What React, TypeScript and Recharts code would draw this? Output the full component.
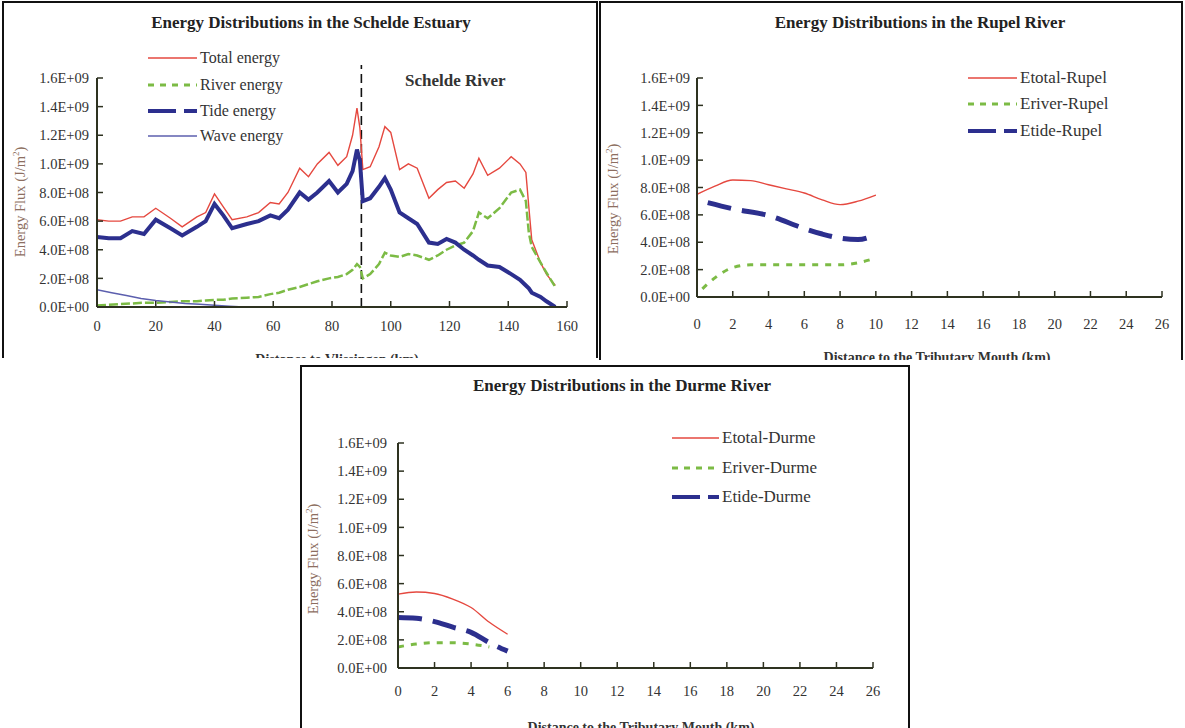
import React from "react";
import { LineChart, Line, XAxis, YAxis, ReferenceLine } from "recharts";

// values are in units of 1E+09 J/m2
const scheldeKm = [0, 4, 8, 12, 16, 20, 25, 29, 34, 37, 40, 43, 46, 51, 55, 59, 62, 65, 69, 72, 75, 79, 82, 85, 87, 88.5, 89.5, 90.5, 93, 96, 98, 100, 103, 106, 109, 113, 116, 119, 122, 125, 128, 130, 133, 137, 141, 144, 146, 147, 148, 151, 153, 156];
const scheldeTotal = [0.61, 0.6, 0.6, 0.63, 0.63, 0.69, 0.62, 0.56, 0.63, 0.66, 0.79, 0.7, 0.61, 0.63, 0.66, 0.73, 0.72, 0.8, 0.97, 0.91, 1.0, 1.08, 0.99, 1.05, 1.2, 1.39, 1.25, 0.96, 0.98, 1.12, 1.26, 1.22, 0.96, 1.0, 0.97, 0.76, 0.82, 0.87, 0.88, 0.83, 0.93, 1.04, 0.92, 0.97, 1.05, 1.0, 0.94, 0.7, 0.47, 0.31, 0.23, 0.15];
const scheldeTide = [0.49, 0.48, 0.48, 0.53, 0.51, 0.61, 0.55, 0.5, 0.56, 0.6, 0.72, 0.64, 0.55, 0.58, 0.6, 0.64, 0.62, 0.68, 0.8, 0.75, 0.8, 0.88, 0.8, 0.86, 0.95, 1.1, 1.02, 0.74, 0.76, 0.84, 0.9, 0.82, 0.66, 0.62, 0.58, 0.45, 0.44, 0.475, 0.45, 0.4, 0.36, 0.33, 0.29, 0.28, 0.23, 0.19, 0.15, 0.13, 0.1, 0.07, 0.04, 0.0];
const scheldeRiver = [0.01, 0.015, 0.02, 0.025, 0.03, 0.03, 0.035, 0.04, 0.04, 0.045, 0.05, 0.05, 0.06, 0.065, 0.07, 0.09, 0.1, 0.12, 0.14, 0.16, 0.18, 0.2, 0.21, 0.23, 0.26, 0.3, 0.28, 0.2, 0.23, 0.3, 0.38, 0.36, 0.35, 0.37, 0.36, 0.33, 0.36, 0.4, 0.43, 0.45, 0.53, 0.66, 0.62, 0.69, 0.8, 0.82, 0.74, 0.52, 0.42, 0.31, 0.24, 0.14];
const waveKm = [0, 5, 10, 15, 20, 25, 30, 35, 40, 45, 50];
const waveEnergy = [0.12, 0.1, 0.08, 0.06, 0.045, 0.035, 0.025, 0.02, 0.012, 0.005, 0.0];

const rupelTotalKm = [0, 1, 2, 3, 4, 5, 6, 7, 8, 9, 10];
const rupelTotal = [0.75, 0.81, 0.855, 0.85, 0.82, 0.79, 0.76, 0.71, 0.675, 0.7, 0.745];
const rupelTideKm = [0.6, 2, 4, 6, 7, 8, 9, 10];
const rupelTide = [0.69, 0.645, 0.595, 0.5, 0.46, 0.43, 0.42, 0.455];
const rupelRiverKm = [0.3, 1, 2, 3, 4, 6, 8, 9, 10];
const rupelRiver = [0.06, 0.14, 0.215, 0.235, 0.235, 0.235, 0.235, 0.25, 0.285];

const durmeKm = [0, 1, 2, 3, 4, 5, 6];
const durmeTotal = [0.525, 0.54, 0.53, 0.49, 0.43, 0.325, 0.24];
const durmeTide = [0.36, 0.354, 0.33, 0.29, 0.253, 0.18, 0.12];
const durmeRiverKm = [0, 1, 2, 3, 4, 5];
const durmeRiver = [0.15, 0.17, 0.18, 0.18, 0.17, 0.15];

const yTicks = [0, 0.2, 0.4, 0.6, 0.8, 1.0, 1.2, 1.4, 1.6];
const scheldeTicks = [0, 20, 40, 60, 80, 100, 120, 140, 160];
const tributaryTicks = [0, 2, 4, 6, 8, 10, 12, 14, 16, 18, 20, 22, 24, 26];

const RED = "#e5483f";
const GREEN = "#7cbb45";
const NAVY = "#2c2f8e";
const WAVE = "#5c5fae";
const AXIS = "#2e3220";
const FONT = "'Liberation Serif', 'Times New Roman', serif";

const pts = (xs: number[], ys: number[]) => xs.map((x, i) => ({ x, y: ys[i] }));

function sci(v: number) {
  const n = Math.round(v * 1e9);
  if (n === 0) return "0.0E+00";
  const e = Math.floor(Math.log10(n) + 1e-9);
  return (n / 10 ** e).toFixed(1) + "E+" + String(e).padStart(2, "0");
}

type Series = {
  name: string;
  data: { x: number; y: number }[];
  color: string;
  width: number;
  dash?: string;
  legendDash?: string;
  legendWidth?: number;
  curve: "linear" | "monotone";
};

type Box = { left: number; top: number; width: number; height: number };

function Panel(props: {
  box: Box;
  plot: { left: number; top: number; right: number; bottom: number };
  title: string;
  titleX: number;
  titleY: number;
  xTitle: string;
  xTitleX: number;
  xTitleY: number;
  yTitleX: number;
  yTitleY: number;
  xDomain: [number, number];
  xTicks: number[];
  xTickGap: number;
  yTickGap: number;
  series: Series[];
  legend: { lineX: number; textX: number; rows: number[]; fontSize: number };
  children?: React.ReactNode;
  extra?: React.ReactNode;
}) {
  const { box, plot } = props;
  const xAxisH = 40;
  const margin = {
    top: plot.top - box.top,
    right: box.left + box.width - plot.right,
    left: 0,
    bottom: box.top + box.height - plot.bottom - xAxisH,
  };
  const tickStyle = { fill: "#333", fontSize: 14.5, fontFamily: FONT };
  return (
    <div
      style={{
        position: "absolute",
        left: box.left,
        top: box.top,
        width: box.width,
        height: box.height,
        overflow: "hidden",
        background: "#fff",
        fontFamily: FONT,
      }}
    >
      <div
        style={{
          position: "absolute",
          inset: 0,
          borderLeft: "2px solid #111",
          borderTop: "2px solid #111",
          borderRight: "2px solid #111",
        }}
      />
      <LineChart width={box.width} height={box.height} margin={margin}>
        <XAxis
          type="number"
          dataKey="x"
          domain={props.xDomain}
          ticks={props.xTicks}
          allowDataOverflow
          height={xAxisH}
          tickSize={-6}
          tickMargin={props.xTickGap}
          axisLine={{ stroke: AXIS, strokeWidth: 2 }}
          tickLine={{ stroke: AXIS, strokeWidth: 1.5 }}
          tick={tickStyle}
        />
        <YAxis
          type="number"
          domain={[0, 1.6]}
          ticks={yTicks}
          allowDataOverflow
          width={plot.left - box.left}
          tickSize={-6}
          tickMargin={props.yTickGap}
          tickFormatter={sci}
          axisLine={{ stroke: AXIS, strokeWidth: 2 }}
          tickLine={{ stroke: AXIS, strokeWidth: 1.5 }}
          tick={tickStyle}
        />
        {props.children}
        {props.series.map((s) => (
          <Line
            key={s.name}
            data={s.data}
            dataKey="y"
            type={s.curve}
            stroke={s.color}
            strokeWidth={s.width}
            strokeDasharray={s.dash}
            dot={false}
            activeDot={false}
            isAnimationActive={false}
          />
        ))}
      </LineChart>
      <div
        style={{
          position: "absolute",
          left: props.titleX - box.left - 250,
          top: props.titleY - box.top - 11,
          width: 500,
          textAlign: "center",
          fontWeight: "bold",
          fontSize: 17,
          color: "#222",
        }}
      >
        {props.title}
      </div>
      <div
        style={{
          position: "absolute",
          left: props.yTitleX - box.left - 100,
          top: props.yTitleY - box.top - 10,
          width: 200,
          textAlign: "center",
          fontSize: 14.5,
          color: "#8c6e60",
          transform: "rotate(-90deg)",
        }}
      >
        Energy Flux (J/m<sup style={{ fontSize: 9 }}>2</sup>)
      </div>
      <div
        style={{
          position: "absolute",
          left: props.xTitleX - box.left - 200,
          top: props.xTitleY - box.top,
          width: 400,
          textAlign: "center",
          fontWeight: "bold",
          fontSize: 14,
          color: "#333",
        }}
      >
        {props.xTitle}
      </div>
      {props.series.map((s, i) => (
        <div
          key={s.name}
          style={{
            position: "absolute",
            left: props.legend.lineX - box.left,
            top: props.legend.rows[i] - box.top - 11,
            height: 22,
            display: "flex",
            alignItems: "center",
            fontSize: props.legend.fontSize,
            color: "#333",
            whiteSpace: "nowrap",
          }}
        >
          <svg width={props.legend.textX - props.legend.lineX} height={10}>
            <line
              x1={0}
              y1={5}
              x2={props.legend.textX - props.legend.lineX - 3}
              y2={5}
              stroke={s.color}
              strokeWidth={s.legendWidth ?? s.width}
              strokeDasharray={s.legendDash ?? s.dash}
            />
          </svg>
          <span>{s.name}</span>
        </div>
      ))}
      {props.extra}
    </div>
  );
}

export default function App() {
  const schelde: Series[] = [
    { name: "Total energy", data: pts(scheldeKm, scheldeTotal), color: RED, width: 1.4, curve: "linear" },
    { name: "River energy", data: pts(scheldeKm, scheldeRiver), color: GREEN, width: 2.5, dash: "9 3", legendDash: "6 6", legendWidth: 3, curve: "linear" },
    { name: "Tide energy", data: pts(scheldeKm, scheldeTide), color: NAVY, width: 4, legendDash: "28 8", curve: "linear" },
    { name: "Wave energy", data: pts(waveKm, waveEnergy), color: WAVE, width: 1.5, legendDash: "", curve: "linear" },
  ];
  const rupel: Series[] = [
    { name: "Etotal-Rupel", data: pts(rupelTotalKm, rupelTotal), color: RED, width: 1.4, curve: "monotone" },
    { name: "Eriver-Rupel", data: pts(rupelRiverKm, rupelRiver), color: GREEN, width: 3, dash: "6 7", legendDash: "6 6", curve: "monotone" },
    { name: "Etide-Rupel", data: pts(rupelTideKm, rupelTide), color: NAVY, width: 5, dash: "24 11", legendDash: "28 8", legendWidth: 4, curve: "monotone" },
  ];
  const durme: Series[] = [
    { name: "Etotal-Durme", data: pts(durmeKm, durmeTotal), color: RED, width: 1.4, curve: "monotone" },
    { name: "Eriver-Durme", data: pts(durmeRiverKm, durmeRiver), color: GREEN, width: 3, dash: "6 7", legendDash: "6 6", curve: "monotone" },
    { name: "Etide-Durme", data: pts(durmeKm, durmeTide), color: NAVY, width: 5, dash: "24 11", legendDash: "28 8", legendWidth: 4, curve: "monotone" },
  ];

  return (
    <div style={{ position: "absolute", left: 0, top: 0, width: 1185, height: 728, background: "#fff", overflow: "hidden" }}>
      <Panel
        box={{ left: 2, top: 1, width: 596, height: 357 }}
        plot={{ left: 97, top: 78, right: 567, bottom: 307 }}
        title="Energy Distributions in the Schelde Estuary"
        titleX={311}
        titleY={24}
        xTitle="Distance to Vlissingen (km)"
        xTitleX={337}
        xTitleY={352}
        yTitleX={20}
        yTitleY={203}
        xDomain={[0, 160]}
        xTicks={scheldeTicks}
        xTickGap={20}
        yTickGap={14}
        series={schelde}
        legend={{ lineX: 148, textX: 200, rows: [58, 85, 111, 136], fontSize: 16 }}
        extra={
          <div
            style={{
              position: "absolute",
              left: 405 - 2,
              top: 83 - 1 - 12,
              fontSize: 17,
              color: "#333",
              fontWeight: 600,
              whiteSpace: "nowrap",
            }}
          >
            Schelde River
          </div>
        }
      >
        <ReferenceLine
          segment={[
            { x: 90, y: 0 },
            { x: 90, y: 1.69 },
          ]}
          ifOverflow="visible"
          stroke="#111"
          strokeWidth={1.6}
          strokeDasharray="9 5"
        />
      </Panel>
      <Panel
        box={{ left: 599, top: 1, width: 584, height: 359 }}
        plot={{ left: 697, top: 78, right: 1162, bottom: 297 }}
        title="Energy Distributions in the Rupel River"
        titleX={920}
        titleY={24}
        xTitle="Distance to the Tributary Mouth (km)"
        xTitleX={937}
        xTitleY={350}
        yTitleX={613}
        yTitleY={200}
        xDomain={[0, 26]}
        xTicks={tributaryTicks}
        xTickGap={28}
        yTickGap={13}
        series={rupel}
        legend={{ lineX: 968, textX: 1020, rows: [78, 104, 131], fontSize: 17 }}
      />
      <Panel
        box={{ left: 300, top: 365, width: 610, height: 363 }}
        plot={{ left: 398, top: 443, right: 873, bottom: 668 }}
        title="Energy Distributions in the Durme River"
        titleX={622}
        titleY={387}
        xTitle="Distance to the Tributary Mouth (km)"
        xTitleX={641}
        xTitleY={720}
        yTitleX={313}
        yTitleY={560}
        xDomain={[0, 26]}
        xTicks={tributaryTicks}
        xTickGap={24}
        yTickGap={17}
        series={durme}
        legend={{ lineX: 672, textX: 722, rows: [438, 468, 497], fontSize: 17 }}
      />
    </div>
  );
}
